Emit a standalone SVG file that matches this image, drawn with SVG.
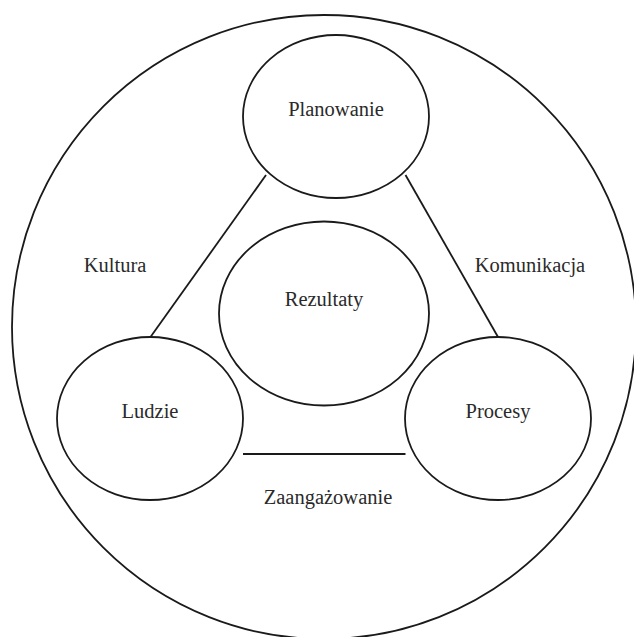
<svg xmlns="http://www.w3.org/2000/svg" width="634" height="637" viewBox="0 0 634 637">
<style>
.shape{fill:none;stroke:#1a1a1a;stroke-width:1.8}
.node{fill:#fff;stroke:#1a1a1a;stroke-width:1.8}
.t{font-family:"Liberation Serif","Times New Roman",Times,serif;font-size:20.5px;fill:#2a2a2a;text-anchor:middle}
</style>
<rect width="634" height="637" fill="#fff"/>
<g id="outer"><circle class="shape" cx="324" cy="327" r="312"/></g>
<g id="connectors">
<line class="shape" x1="266" y1="175" x2="150.5" y2="337"/>
<line class="shape" x1="405.5" y1="175" x2="498" y2="337"/>
<line class="shape" x1="243" y1="454" x2="405.5" y2="454"/>
</g>
<g id="planowanie"><ellipse class="node" cx="336" cy="116.5" rx="93" ry="81.5"/><text class="t" x="336" y="116">Planowanie</text></g>
<g id="rezultaty"><ellipse class="node" cx="324" cy="313.5" rx="105" ry="92"/><text class="t" x="324" y="306">Rezultaty</text></g>
<g id="ludzie"><ellipse class="node" cx="150" cy="418.5" rx="93" ry="81.5"/><text class="t" x="150" y="418">Ludzie</text></g>
<g id="procesy"><ellipse class="node" cx="498" cy="418.5" rx="93" ry="81.5"/><text class="t" x="498" y="418">Procesy</text></g>
<g id="labels">
<text class="t" x="115" y="272">Kultura</text>
<text class="t" x="530" y="272">Komunikacja</text>
<text class="t" x="328" y="504">Zaangażowanie</text>
</g>
</svg>
